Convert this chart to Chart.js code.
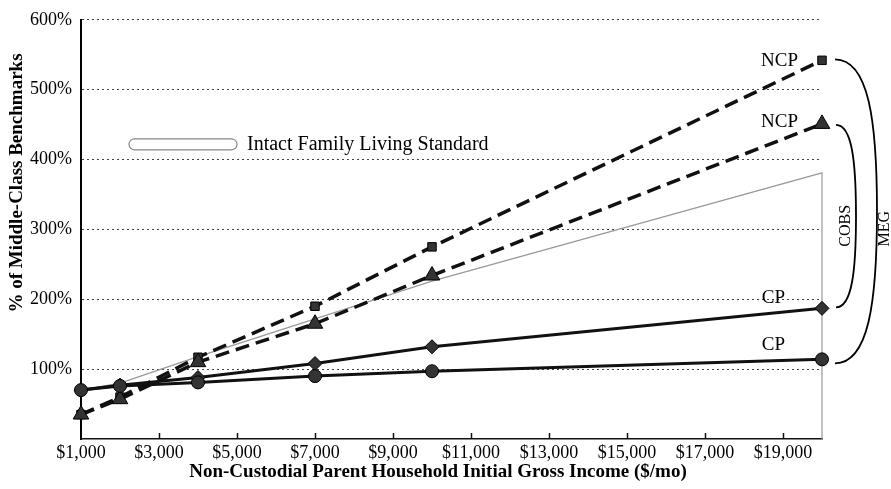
<!DOCTYPE html>
<html>
<head>
<meta charset="utf-8">
<title>Middle-Class Benchmarks</title>
<script src="https://cdn.jsdelivr.net/npm/chart.js@4"></script>
<style>
    html, body { margin: 0; padding: 0; background: #fff; }
    #wrap { width: 891px; height: 489px; }
</style>
</head>
<body>
<div id="wrap"><canvas id="benchmarks"></canvas></div>
<script>
"use strict";

// Data (% of middle-class benchmarks)
var incomes = [1000, 2000, 4000, 7000, 10000, 20000];
var ncpMeg = [35, 60, 117, 190, 275, 542];
var ncpCobs = [35, 57, 110, 165, 234, 451];
var cpCobs = [70, 77, 88, 108, 132, 187];
var cpMeg = [70, 76, 81, 90, 97, 114];

var intactIncomes = [1000, 2000, 4000, 7000, 10000, 20000, 20000];
var intactLevels = [70, 80, 118, 172, 226, 381, 0];

var xTickValues = [1000, 3000, 5000, 7000, 9000, 11000, 13000, 15000, 17000, 19000];
var yTickValues = [0, 100, 200, 300, 400, 500, 600];

var xTitle = 'Non-Custodial Parent Household Initial Gross Income ($/mo)';
var yTitle = '% of Middle-Class Benchmarks';

var serif = "'Liberation Serif', 'Times New Roman', serif";

function toPoints(xs, ys) {
    return xs.map(function (x, i) { return {x: x, y: ys[i]}; });
}

// Axis titles, right hand labels, brackets, legend and inward x ticks
var annotations = {
    id: 'annotations',
    afterDraw: function (chart) {
        var ctx = chart.ctx;
        var x = chart.scales.x, y = chart.scales.y;
        var area = chart.chartArea;
        var last = incomes.length - 1;
        var xe = x.getPixelForValue(incomes[last]);

        ctx.save();

        // inward tick marks on the x axis
        ctx.strokeStyle = '#111';
        ctx.lineWidth = 1.5;
        xTickValues.slice(1).forEach(function (v) {
            var px = Math.round(x.getPixelForValue(v)) + 0.5;
            ctx.beginPath();
            ctx.moveTo(px, area.bottom);
            ctx.lineTo(px, area.bottom - 6);
            ctx.stroke();
        });

        function vtext(txt, px, py) {
            ctx.save();
            ctx.translate(px, py);
            ctx.rotate(-Math.PI / 2);
            ctx.textAlign = 'center';
            ctx.textBaseline = 'middle';
            ctx.fillText(txt, 0, 0);
            ctx.restore();
        }

        // axis titles
        ctx.fillStyle = '#000';
        ctx.font = 'bold 19px ' + serif;
        ctx.textAlign = 'center';
        ctx.textBaseline = 'middle';
        ctx.fillText(xTitle, 438, area.bottom + 33);
        vtext(yTitle, 17, 183);

        // series labels
        ctx.font = '19px ' + serif;
        ctx.textAlign = 'right';
        ctx.fillText('NCP', xe - 24, y.getPixelForValue(ncpMeg[last]) + 1);
        ctx.fillText('NCP', xe - 24, y.getPixelForValue(ncpCobs[last]) - 2);
        ctx.fillText('CP', xe - 37, y.getPixelForValue(cpCobs[last]) - 10);
        ctx.fillText('CP', xe - 37, y.getPixelForValue(cpMeg[last]) - 14);

        // brackets
        function bracket(x0, top, bot, w) {
            var mid = (top + bot) / 2, h = bot - top;
            ctx.beginPath();
            ctx.moveTo(x0, top);
            ctx.bezierCurveTo(x0 + w * 0.8, top, x0 + w, top + h * 0.2, x0 + w, mid);
            ctx.bezierCurveTo(x0 + w, bot - h * 0.2, x0 + w * 0.8, bot, x0, bot);
            ctx.stroke();
        }
        ctx.strokeStyle = '#000';
        ctx.lineWidth = 1.8;
        bracket(xe + 13, y.getPixelForValue(ncpMeg[last]) - 1, y.getPixelForValue(cpMeg[last]) + 4, 42);
        bracket(xe + 14, y.getPixelForValue(ncpCobs[last]) + 1, y.getPixelForValue(cpCobs[last]) - 1, 20);

        ctx.font = '16px ' + serif;
        vtext('COBS', xe + 24, area.top + 206);
        vtext('MEG', xe + 63, area.top + 209);

        // legend for the intact family line
        var lx = area.left + 48, ly = area.top + 119;
        ctx.strokeStyle = '#888';
        ctx.lineWidth = 1.2;
        ctx.beginPath();
        ctx.roundRect(lx, ly, 108, 11, 5.5);
        ctx.stroke();
        ctx.font = '20px ' + serif;
        ctx.textAlign = 'left';
        ctx.fillText('Intact Family Living Standard', lx + 118, ly + 6);

        ctx.restore();
    }
};

var lineStyle = function (data, dashed, shape, radius) {
    return {
        data: data,
        borderColor: '#111',
        backgroundColor: '#222',
        pointBorderColor: '#000',
        pointBackgroundColor: '#333',
        borderWidth: dashed ? 3.5 : 3,
        borderDash: dashed ? [14, 7] : [],
        pointStyle: shape,
        pointRadius: radius,
        pointBorderWidth: 1,
        clip: false
    };
};

new Chart(document.getElementById('benchmarks'), {
    type: 'line',
    data: {
        datasets: [
            lineStyle(toPoints(incomes, cpMeg), false, 'circle', 6.5),
            lineStyle(toPoints(incomes, cpCobs), false, 'rectRot', 7),
            lineStyle(toPoints(incomes, ncpCobs), true, 'triangle', 9),
            lineStyle(toPoints(incomes, ncpMeg), true, 'rect', 6),
            {
                data: toPoints(intactIncomes, intactLevels),
                borderColor: '#999',
                borderWidth: 1.2,
                pointRadius: 0,
                fill: false,
                clip: false
            }
        ]
    },
    options: {
        responsive: true,
        maintainAspectRatio: false,
        animation: false,
        events: [],
        layout: { padding: { top: 14, right: 69, left: 0, bottom: 0 } },
        plugins: {
            legend: { display: false },
            tooltip: { enabled: false }
        },
        scales: {
            x: {
                type: 'linear',
                min: 1000,
                max: 20000,
                afterBuildTicks: function (scale) {
                    scale.ticks = xTickValues.map(function (v) { return {value: v}; });
                },
                afterFit: function (scale) { scale.height = 50; },
                grid: { display: false, drawTicks: false },
                border: { display: true, color: '#111', width: 1.5 },
                ticks: {
                    padding: 3,
                    color: '#000',
                    font: { family: serif, size: 18 },
                    maxRotation: 0,
                    callback: function (v) { return '$' + v.toLocaleString('en-US'); }
                }
            },
            y: {
                min: 0,
                max: 600,
                afterBuildTicks: function (scale) {
                    scale.ticks = yTickValues.map(function (v) { return {value: v}; });
                },
                afterFit: function (scale) { scale.width = 81; },
                grid: {
                    drawTicks: false,
                    lineWidth: 1,
                    color: function (c) { return c.tick && c.tick.value === 0 ? 'rgba(0,0,0,0)' : '#444'; }
                },
                border: { display: true, color: '#000', width: 2, dash: [2, 3] },
                ticks: {
                    padding: 9,
                    color: '#000',
                    font: { family: serif, size: 18 },
                    callback: function (v) { return v === 0 ? '' : v + '%'; }
                }
            }
        }
    },
    plugins: [annotations]
});
</script>
</body>
</html>
